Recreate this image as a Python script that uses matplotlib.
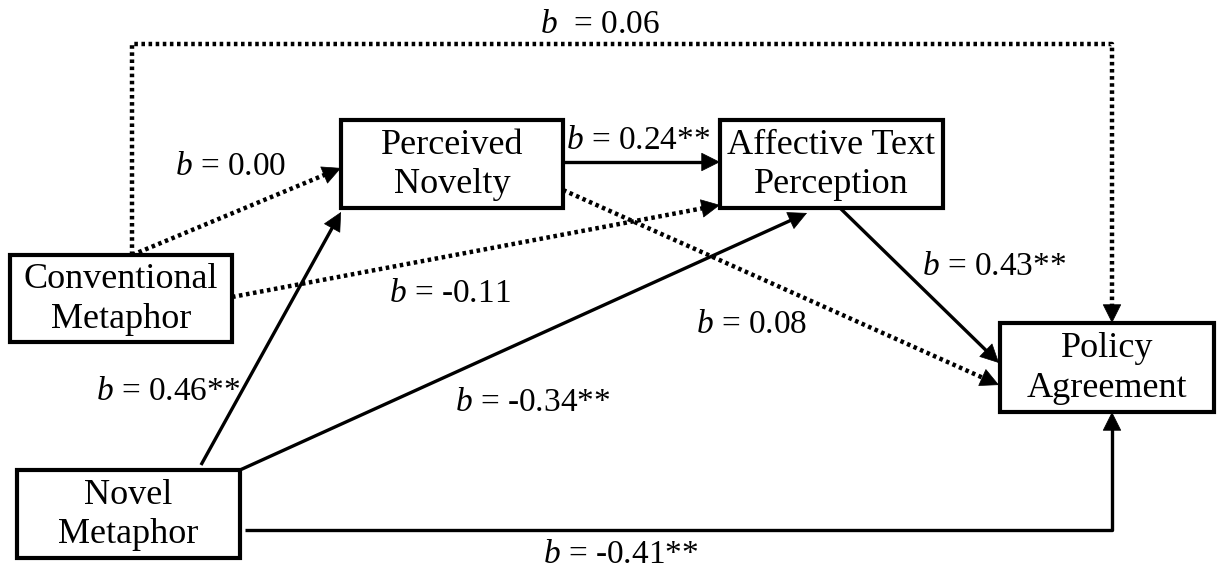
import matplotlib
matplotlib.use("Agg")
import matplotlib.pyplot as plt
from matplotlib.patches import Rectangle

plt.rcParams["font.family"] = ["Liberation Serif", "DejaVu Serif"]
plt.rcParams["mathtext.fontset"] = "custom"
plt.rcParams["mathtext.rm"] = "Liberation Serif"
plt.rcParams["mathtext.it"] = "Liberation Serif:italic"

# path diagram content
nodes = ["Conventional\nMetaphor", "Perceived\nNovelty", "Affective Text\nPerception",
         "Policy\nAgreement", "Novel\nMetaphor"]
paths = ["conv_nov", "conv_aff", "nov_aff", "nov_pol", "aff_pol", "novm_nov",
         "novm_aff", "novm_pol", "conv_pol"]
coefs = ["0.00", "-0.11", "0.24**", "0.08", "0.43**", "0.46**", "-0.34**", "-0.41**", "0.06"]
significant = [False, False, True, False, True, True, True, True, False]

# layout in pixel units (x0, y0, x1, y1)
boxes = {
    nodes[0]: (10, 255, 232, 342),
    nodes[1]: (341, 120, 563, 208),
    nodes[2]: (720, 120, 943, 208),
    nodes[3]: (1000, 323, 1214, 412),
    nodes[4]: (17, 470, 240, 558),
}
routes = {
    "conv_nov": [(132, 255), (341, 168)],
    "conv_aff": [(232, 297), (720, 205)],
    "nov_aff": [(563, 162), (720, 162)],
    "nov_pol": [(563, 190), (999, 385)],
    "aff_pol": [(840, 208), (999, 363)],
    "novm_nov": [(201, 465), (341, 212)],
    "novm_aff": [(240, 470), (807, 213)],
    "novm_pol": [(245, 530), (1112, 530), (1112, 412)],
    "conv_pol": [(132, 255), (132, 44), (1112, 44), (1112, 323)],
}
label_pos = {
    "conv_nov": (231, 167), "conv_aff": (450, 294), "nov_aff": (638, 141),
    "nov_pol": (752, 325), "aff_pol": (994, 267), "novm_nov": (168, 392),
    "novm_aff": (533, 403), "novm_pol": (621, 555), "conv_pol": (600, 25),
}

fig = plt.figure(figsize=(12.2, 5.71), dpi=100)
ax = fig.add_axes([0, 0, 1, 1])
ax.set_xlim(0, 1220)
ax.set_ylim(571, 0)
ax.axis("off")

LW = 2.4
FS = 26
FS_LABEL = 24

for name, (x0, y0, x1, y1) in boxes.items():
    ax.add_patch(Rectangle((x0, y0), x1 - x0, y1 - y0, fill=False, lw=LW + 0.6, ec="black", zorder=3))
    ax.text((x0 + x1) / 2, (y0 + y1) / 2 + 1, name, ha="center", va="center", fontsize=FS,
            linespacing=1.25, zorder=4)

for key, coef, sig in zip(paths, coefs, significant):
    pts = routes[key]
    xs = [p[0] for p in pts]
    ys = [p[1] for p in pts]
    ls = "-" if sig else (0, (0.8, 0.8))
    lw = LW if sig else LW + 0.8
    (x0, y0), (x1, y1) = pts[-2], pts[-1]
    d = ((x1 - x0) ** 2 + (y1 - y0) ** 2) ** 0.5
    hx, hy = x1 - (x1 - x0) / d * 10, y1 - (y1 - y0) / d * 10
    ax.plot(xs[:-1] + [hx], ys[:-1] + [hy], color="black", lw=lw, ls=ls,
            solid_capstyle="butt", dash_capstyle="butt", zorder=2)
    ax.annotate("", xy=(x1, y1), xytext=(x1 - (x1 - x0) / d * 16, y1 - (y1 - y0) / d * 16),
                arrowprops=dict(arrowstyle="-|>,head_length=0.6,head_width=0.3", color="black",
                                lw=0.5, mutation_scale=21, shrinkA=0, shrinkB=0), zorder=2)
    sep = "  = " if key == "conv_pol" else " = "
    ax.text(*label_pos[key], "$b$" + sep + coef, ha="center", va="center", fontsize=FS_LABEL,
            zorder=4)

fig.savefig("out.png", dpi=100, facecolor="white")
